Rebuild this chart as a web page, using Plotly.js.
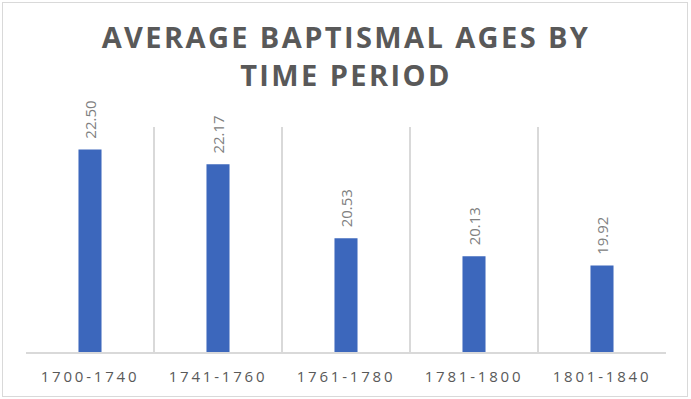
<!DOCTYPE html>
<html>
<head>
<meta charset="utf-8">
<script src="https://cdn.plot.ly/plotly-3.0.1.min.js"></script>
<style>
html,body{margin:0;padding:0;background:#fff;}
#wrap{position:relative;width:691px;height:399px;}
#chart{width:691px;height:399px;}
#frame{position:absolute;left:2px;top:2px;width:684px;height:393px;border:1.5px solid #d9d9d9;pointer-events:none;}
.gtitle{letter-spacing:2.4px;}
.xtick text{letter-spacing:2.8px;}
</style>
</head>
<body>
<div id="wrap"><div id="chart"></div><div id="frame"></div></div>
<script>
var categories = ["1700-1740", "1741-1760", "1761-1780", "1781-1800", "1801-1840"];
var averageAges = [22.50, 22.17, 20.53, 20.13, 19.92];
var valueLabels = ["22.50", "22.17", "20.53", "20.13", "19.92"];
var chartTitle = "AVERAGE BAPTISMAL AGES BY<br>TIME PERIOD";

var trace = {
  type: "bar",
  x: categories,
  y: averageAges,
  text: valueLabels,
  texttemplate: "\u00A0\u00A0%{text}",
  textposition: "outside",
  textangle: -90,
  constraintext: "none",
  cliponaxis: false,
  width: 0.18,
  marker: {color: "#3C67BC"},
  textfont: {family: "Open Sans, sans-serif", size: 15, color: "#808080"},
  hoverinfo: "none"
};

var layout = {
  width: 691,
  height: 399,
  margin: {l: 26, r: 25, t: 127, b: 47, pad: 0},
  paper_bgcolor: "#ffffff",
  plot_bgcolor: "#ffffff",
  showlegend: false,
  title: {
    text: chartTitle,
    font: {family: "Open Sans, sans-serif", size: 29, color: "#595959", weight: "bold"},
    x: 0.5, xanchor: "center",
    y: 0.88, yanchor: "top",
    xref: "paper"
  },
  xaxis: {
    type: "category",
    tickson: "boundaries",
    showgrid: true,
    gridcolor: "#d9d9d9",
    gridwidth: 1.5,
    showline: true,
    linecolor: "#d9d9d9",
    linewidth: 1.5,
    ticks: "",
    ticklabelstandoff: 10,
    tickfont: {family: "Open Sans, sans-serif", size: 15, color: "#595959"},
    fixedrange: true
  },
  yaxis: {
    range: [18, 23],
    showgrid: false,
    zeroline: false,
    showticklabels: false,
    showline: false,
    ticks: "",
    fixedrange: true
  }
};

Plotly.newPlot("chart", [trace], layout, {displayModeBar: false, staticPlot: true});
</script>
</body>
</html>
